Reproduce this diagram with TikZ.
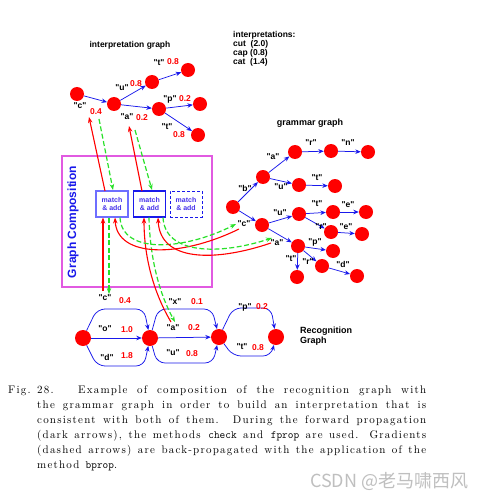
\documentclass[tikz,border=0pt]{standalone}
\usepackage{fontspec}
\newfontfamily\hv{Liberation Sans}
\newfontfamily\cjk{Noto Sans CJK SC}
\newfontfamily\capfont{Latin Modern Roman}[LetterSpace=11]
\usetikzlibrary{arrows.meta}
\definecolor{gcol}{RGB}{40,225,40}
\definecolor{magbox}{RGB}{225,90,225}
\definecolor{bl}{RGB}{25,25,235}
\definecolor{boxtext}{RGB}{70,50,235}
\definecolor{lightbl}{RGB}{110,110,255}
\begin{document}
\begin{tikzpicture}[x=1pt,y=-1pt,
  dot/.style={circle,fill=red,minimum size=14pt,inner sep=0pt},
  bigdot/.style={dot,minimum size=16pt},
  lbl/.style={font=\hv\bfseries\fontsize{8.5}{9}\selectfont,inner sep=0pt},
  num/.style={lbl,text=red},
  ttl/.style={font=\hv\bfseries\fontsize{8.5}{9}\selectfont,inner sep=0pt,align=left},
  edge/.style={draw=bl,line width=0.75pt,-{Stealth[length=5.5pt,width=4.5pt]}},
  fwd/.style={draw=red,line width=1.1pt,-{Stealth[length=6pt,width=4.5pt]}},
  bwd/.style={draw=gcol,line width=1.2pt,dash pattern=on 5pt off 2.5pt,-{Stealth[length=6pt,width=4.5pt]}},
  mbox/.style={minimum width=32pt,minimum height=26pt,inner sep=0pt,align=center,text=boxtext,font=\hv\bfseries\fontsize{7}{7.5}\selectfont},
]
\fill[white] (0,0) rectangle (497,497);
\useasboundingbox (0,0) rectangle (497,497);

% ---------- interpretation graph ----------
\node[ttl] (tig) at (130,45) {interpretation graph};
\node[ttl,anchor=north west] (tis) at (233,31) {interpretations:\\cut\ \ (2.0)\\cap (0.8)\\cat\ \ (1.4)};
\node[dot] (i1) at (77,94) {};
\node[dot] (i2) at (114,104) {};
\node[dot] (i3) at (152,82) {};
\node[dot] (i4) at (188,70) {};
\node[dot] (i5) at (159,109) {};
\node[dot] (i6) at (200,104) {};
\node[dot] (i7) at (198,135) {};
\draw[edge] (i1) -- (i2);
\draw[edge] (i2) -- (i3);
\draw[edge] (i3) -- (i4);
\draw[edge] (i2) -- (i5);
\draw[edge] (i5) -- (i6);
\draw[edge] (i5) -- (i7);
\node[lbl] (lic) at (80,106) {"c"};  \node[num] (nic) at (96,112) {0.4};
\node[lbl] (liu) at (122,88) {"u"};  \node[num] (niu) at (136,84) {0.8};
\node[lbl] (lit) at (159,63) {"t"};  \node[num] (nit) at (173,62) {0.8};
\node[lbl] (lip) at (170,99) {"p"};  \node[num] (nip) at (185,99) {0.2};
\node[lbl] (lia) at (127,117) {"a"}; \node[num] (nia) at (142,118) {0.2};
\node[lbl] (lit2) at (167,127) {"t"}; \node[num] (nit2) at (179,135) {0.8};

% ---------- grammar graph ----------
\node[ttl,font=\hv\bfseries\fontsize{9}{10}\selectfont] (tgg) at (310,123) {grammar graph};
\node[dot] (g0) at (233,207) {};
\node[dot] (gb) at (263,177) {};
\node[dot] (ga) at (295,152) {};
\node[dot] (gr) at (331,151) {};
\node[dot] (gn) at (368,152) {};
\node[dot] (gu) at (299,185) {};
\node[dot] (gt) at (335,186) {};
\node[dot] (gc) at (262,225) {};
\node[dot] (gu2) at (299,214) {};
\node[dot] (gt2) at (333,212) {};
\node[dot] (ge) at (366,212) {};
\node[dot] (gr2) at (331,232) {};
\node[dot] (ge2) at (362,234) {};
\node[dot] (ga2) at (298,246) {};
\node[dot] (gp) at (333,251) {};
\node[dot] (gtd) at (297,277) {};
\node[dot] (gr3) at (322,266) {};
\node[dot] (gd) at (357,276) {};
\draw[edge] (g0) -- (gb);
\draw[edge] (gb) -- (ga);
\draw[edge] (ga) -- (gr);
\draw[edge] (gr) -- (gn);
\draw[edge] (gb) -- (gu);
\draw[edge] (gu) -- (gt);
\draw[edge] (g0) -- (gc);
\draw[edge] (gc) -- (gu2);
\draw[edge] (gu2) -- (gt2);
\draw[edge] (gt2) -- (ge);
\draw[edge] (gu2) -- (gr2);
\draw[edge] (gr2) -- (ge2);
\draw[edge] (gc) -- (ga2);
\draw[edge] (ga2) -- (gp);
\draw[edge] (ga2) -- (gtd);
\draw[edge] (ga2) -- (gr3);
\draw[edge] (gr3) -- (gd);
\node[lbl] (lga) at (273,157) {"a"};
\node[lbl] (lgr) at (311,143) {"r"};
\node[lbl] (lgn) at (348,143) {"n"};
\node[lbl] (lgb) at (245,188) {"b"};
\node[lbl] (lgu) at (281,187) {"u"};
\node[lbl] (lgt) at (317,178) {"t"};
\node[lbl] (lgu2) at (280,213) {"u"};
\node[lbl] (lgt2) at (317,204) {"t"};
\node[lbl] (lge) at (348,205) {"e"};
\node[lbl] (lgr2) at (321,227) {"r"};
\node[lbl] (lge2) at (346,227) {"e"};
\node[lbl] (lgc) at (244,224) {"c"};
\node[lbl] (lga2) at (277,243) {"a"};
\node[lbl] (lgp) at (315,242) {"p"};
\node[lbl] (lgt3) at (291,259) {"t"};
\node[lbl] (lgr3) at (308,262) {"r"};
\node[lbl] (lgd) at (343,264) {"d"};

% ---------- graph composition ----------
\node[draw=magbox,line width=2.6pt,inner sep=0pt,minimum width=150pt,minimum height=131pt] (comp) at (137,221.5) {};
\node[font=\hv\bfseries\fontsize{12}{12}\selectfont,text=bl,rotate=90,inner sep=0pt] (tgc) at (73,222) {Graph Composition};
\node[mbox,draw=lightbl,line width=1.6pt] (m1) at (112,204) {match\\\& add};
\node[mbox,draw=bl,line width=1.1pt] (m2) at (149.5,204) {match\\\& add};
\node[mbox,draw=bl,line width=1pt,dash pattern=on 3pt off 2pt] (m3) at (186,204) {match\\\& add};

% ---------- recognition graph ----------
\node[bigdot] (r0) at (83,338) {};
\node[bigdot] (r1) at (150,338) {};
\node[bigdot] (r2) at (219,337) {};
\node[bigdot] (r3) at (276,337) {};
\draw[edge,rounded corners=8pt] (r0) -- (97,309) -- (144,309) -- (r1);
\draw[edge] (r0) -- (r1);
\draw[edge,rounded corners=8pt] (r0) -- (97,366) -- (144,366) -- (r1);
\draw[edge,rounded corners=8pt] (r1) -- (158,309) -- (212,309) -- (r2);
\draw[edge] (r1) -- (r2);
\draw[edge,rounded corners=8pt] (r1) -- (157,363) -- (213,363) -- (r2);
\draw[edge,rounded corners=8pt] (r2) -- (233,308) -- (271,308) -- (r3);
\draw[edge,rounded corners=8pt] (r2) -- (233,356) -- (271,356) -- (r3);
\node[lbl] (lrc) at (105,298) {"c"}; \node[num] (nrc) at (125,301) {0.4};
\node[lbl] (lro) at (105,329) {"o"}; \node[num] (nro) at (127,330) {1.0};
\node[lbl] (lrd) at (107,357) {"d"}; \node[num] (nrd) at (127,356) {1.8};
\node[lbl] (lrx) at (175,302) {"x"}; \node[num] (nrx) at (197,302) {0.1};
\node[lbl] (lra) at (173,328) {"a"}; \node[num] (nra) at (194,328) {0.2};
\node[lbl] (lru) at (173,353) {"u"}; \node[num] (nru) at (192,354) {0.8};
\node[lbl] (lrp) at (245,307) {"p"}; \node[num] (nrp) at (262,307) {0.2};
\node[lbl] (lrt) at (242,347) {"t"}; \node[num] (nrt) at (258,348) {0.8};
\node[ttl,font=\hv\bfseries\fontsize{9}{9.5}\selectfont,anchor=west] (trg) at (300,336) {Recognition\\Graph};

% ---------- composition flow ----------
\coordinate (m1t1) at (105,191); \coordinate (ic1) at (89,117);
\coordinate (ic2) at (99,119);  \coordinate (m1t2) at (113,190);
\coordinate (m2t1) at (142,191); \coordinate (ia1) at (129,126);
\coordinate (ia2) at (135,130); \coordinate (m2t2) at (152,190);
\draw[fwd] (m1t1) -- (ic1);
\draw[bwd] (ic2) -- (m1t2);
\draw[fwd] (m2t1) -- (ia1);
\draw[bwd] (ia2) -- (m2t2);

\coordinate (rc1) at (103,291); \coordinate (m1b1) at (103,217.5);
\coordinate (m1b2) at (109,217.5); \coordinate (rc2) at (109,294);
\draw[fwd] (rc1) -- (m1b1);
\draw[bwd] (m1b2) -- (rc2);
\coordinate (ra1) at (171,322); \coordinate (m2b1) at (144,217.5);
\coordinate (m2b2) at (149,217.5); \coordinate (ra2) at (175,322);
\draw[fwd] (ra1) .. controls (155,295) and (144,260) .. (m2b1);
\draw[bwd] (m2b2) .. controls (150,260) and (160,295) .. (ra2);

\coordinate (gc1) at (239,229); \coordinate (m1b3) at (115,217.5);
\coordinate (m1b4) at (120,217.5); \coordinate (gc2) at (236,224);
\draw[fwd] (gc1) .. controls (180,258) and (117,258) .. (m1b3);
\draw[bwd] (m1b4) .. controls (122,255) and (185,250) .. (gc2);
\coordinate (ga1) at (271,243); \coordinate (m2b3) at (158,217.5);
\coordinate (m2b4) at (163,217.5); \coordinate (ga3) at (272,238);
\draw[fwd] (ga1) .. controls (215,262) and (160,262) .. (m2b3);
\draw[bwd] (m2b4) .. controls (165,255) and (220,255) .. (ga3);

% ---------- caption ----------
\node[anchor=north west,inner sep=0pt,text width=418pt,align=justify,font=\capfont\fontsize{11}{15}\selectfont] (cap) at (8,386)
{\noindent\hangindent=29pt\hangafter=1 \makebox[70pt][l]{Fig. 28.}Example of composition of the recognition graph with\linebreak
the grammar graph in order to build an interpretation that is\linebreak
consistent with both of them. During the forward propagation\linebreak
(dark arrows), the methods \texttt{check} and \texttt{fprop} are used. Gradients\linebreak
(dashed arrows) are back-propagated with the application of the\linebreak
method \texttt{bprop}.\par};

\node[font=\cjk\fontsize{18}{18}\selectfont,text=gray!50,anchor=west,inner sep=0pt] (wm) at (310,481) {CSDN @老马啸西风};
\end{tikzpicture}
\end{document}
